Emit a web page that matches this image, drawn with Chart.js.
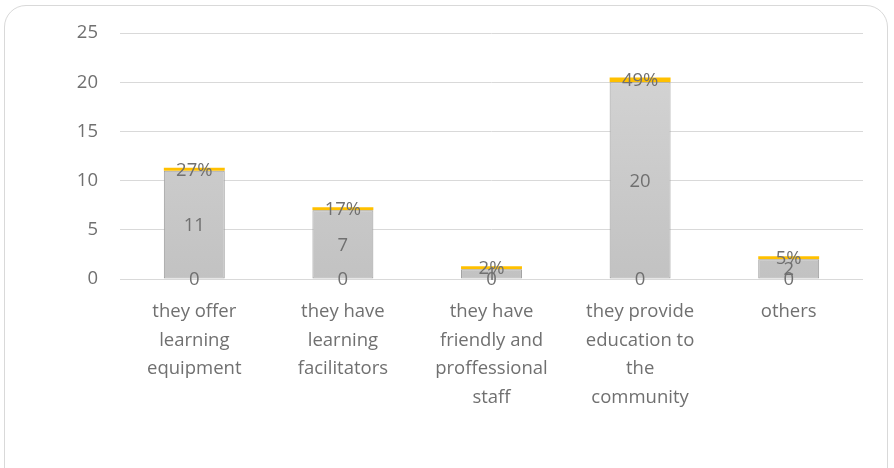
<!DOCTYPE html>
<html>
<head>
<meta charset="utf-8">
<script src="https://cdn.jsdelivr.net/npm/chart.js@4.4.1/dist/chart.umd.min.js"></script>
<style>
  html, body { margin: 0; padding: 0; background: #fff; }
  #wrap { position: relative; width: 894px; height: 468px; overflow: hidden; }
  #frame {
    position: absolute; left: 4px; top: 5px; width: 884px; height: 490px;
    border: 1.5px solid #d9d9d9; border-radius: 22px; box-sizing: border-box;
  }
  #chart { position: absolute; left: 0; top: 0; }
</style>
</head>
<body>
<div id="wrap">
  <div id="frame"></div>
  <canvas id="chart" width="894" height="468"></canvas>
</div>
<script>
var categories = [
    ["they offer", "learning", "equipment"],
    ["they have", "learning", "facilitators"],
    ["they have", "friendly and", "proffessional", "staff"],
    ["they provide", "education to", "the", "community"],
    ["others"]
];
var baseValues = [0, 0, 0, 0, 0];
var countValues = [11, 7, 1, 20, 2];
var shareValues = [0.27, 0.17, 0.02, 0.49, 0.05];
var yTicks = [0, 5, 10, 15, 20, 25];

var textColor = "#707070";
var fontFamily = "'Open Sans', Lato, sans-serif";
var fontSize = 18.5;

// gray fill, a bit lighter at the top of the column
function grayFill(context) {
    var chart = context.chart;
    var area = chart.chartArea;
    if (!area) return "#c8c8c8";
    var g = chart.ctx.createLinearGradient(0, area.top, 0, area.bottom);
    g.addColorStop(0, "#d6d6d6");
    g.addColorStop(1, "#c2c2c2");
    return g;
}

// writes each dataset value in the middle of its bar segment
var barLabels = {
    id: "barLabels",
    afterDatasetsDraw: function (chart) {
        var ctx = chart.ctx;
        ctx.save();
        ctx.font = fontSize + "px " + fontFamily;
        ctx.fillStyle = textColor;
        ctx.textAlign = "center";
        ctx.textBaseline = "middle";
        chart.data.datasets.forEach(function (ds, i) {
            var meta = chart.getDatasetMeta(i);
            meta.data.forEach(function (bar, j) {
                var v = ds.data[j];
                var txt = ds.isShare ? Math.round(v * 100) + "%" : String(v);
                var y = (bar.y + bar.base) / 2;
                ctx.fillText(txt, bar.x, y + 1);
            });
        });
        ctx.restore();
    }
};

var chart = new Chart(document.getElementById("chart"), {
    type: "bar",
    data: {
        labels: categories,
        datasets: [{
            label: "base",
            data: baseValues,
            backgroundColor: "#bfbfbf",
            borderWidth: 0
        }, {
            label: "count",
            data: countValues,
            backgroundColor: grayFill,
            borderColor: "#9c9c9c",
            borderWidth: 1,
            borderSkipped: false
        }, {
            label: "share",
            isShare: true,
            data: shareValues,
            backgroundColor: "#ffc000",
            borderWidth: 0,
            minBarLength: 3
        }]
    },
    options: {
        responsive: false,
        animation: false,
        barPercentage: 0.41,
        categoryPercentage: 1,
        layout: { padding: { top: 23, right: 31, bottom: 0, left: 0 } },
        plugins: {
            legend: { display: false },
            tooltip: { enabled: false }
        },
        scales: {
            x: {
                stacked: true,
                grid: { display: false },
                border: { display: false },
                ticks: {
                    color: textColor,
                    font: { family: fontFamily, size: fontSize, lineHeight: 1.56 },
                    padding: 10,
                    maxRotation: 0,
                    autoSkip: false
                },
                afterFit: function (scale) { scale.height = 189; }
            },
            y: {
                stacked: true,
                min: 0,
                max: 25,
                afterBuildTicks: function (scale) {
                    scale.ticks = yTicks.map(function (v) { return { value: v }; });
                },
                grid: { color: "#d9d9d9", lineWidth: 1, drawTicks: false },
                border: { display: false },
                ticks: {
                    color: textColor,
                    font: { family: fontFamily, size: fontSize },
                    padding: 22
                },
                afterFit: function (scale) { scale.width = 120; }
            }
        }
    },
    plugins: [barLabels]
});
</script>
</body>
</html>
